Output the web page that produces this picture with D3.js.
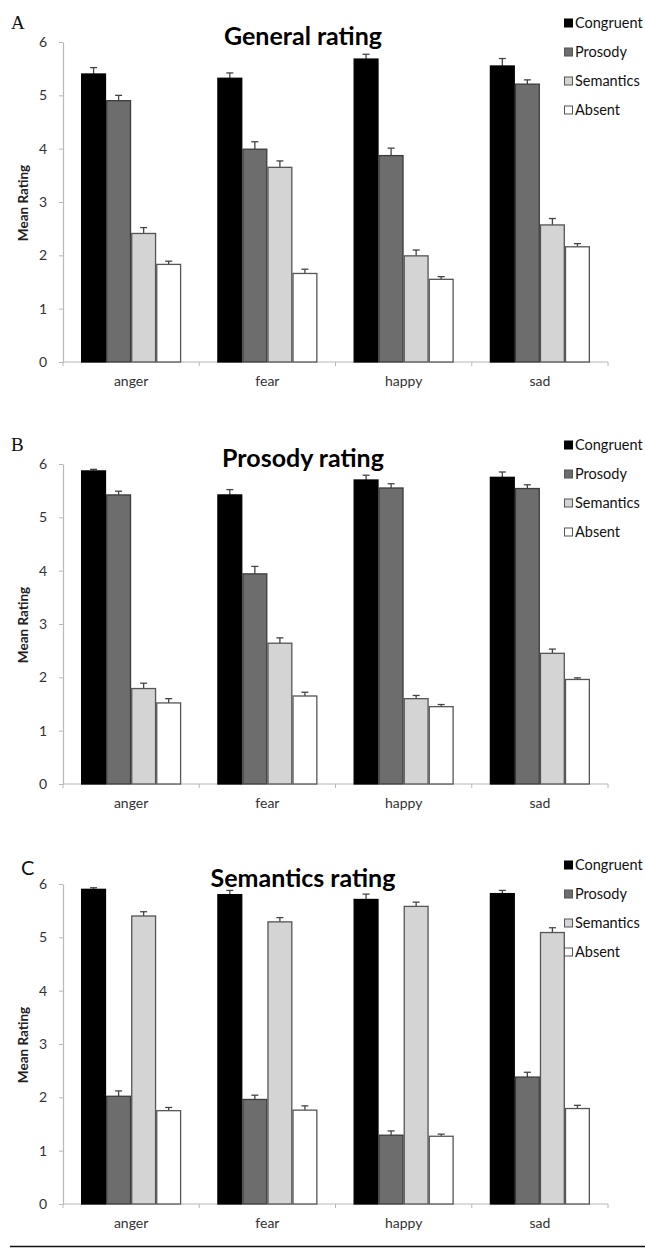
<!DOCTYPE html>
<html>
<head>
<meta charset="utf-8">
<script src="https://cdn.jsdelivr.net/npm/d3@7"></script>
<style>
  html, body { margin: 0; padding: 0; background: #fff; }
  svg { display: block; }
</style>
</head>
<body>
<svg id="chart" width="645" height="1248"></svg>
<script>
// ---------- data ----------
const categories = ["anger", "fear", "happy", "sad"];
const series = ["Congruent", "Prosody", "Semantics", "Absent"];
const panelTitles = ["General rating", "Prosody rating", "Semantics rating"];
const panelLetters = ["A", "B", "C"];
const yTicks = [0, 1, 2, 3, 4, 5, 6];
const yAxisLabel = "Mean Rating";

// means per category (rows) x condition (Congruent, Prosody, Semantics, Absent)
const generalMeans = [
  [5.40, 4.90, 2.41, 1.83],
  [5.32, 3.99, 3.65, 1.66],
  [5.68, 3.87, 1.99, 1.55],
  [5.55, 5.21, 2.57, 2.16]
];
const generalErrors = [
  [0.12, 0.10, 0.11, 0.06],
  [0.10, 0.14, 0.12, 0.08],
  [0.09, 0.14, 0.11, 0.05],
  [0.14, 0.08, 0.12, 0.06]
];
const prosodyMeans = [
  [5.87, 5.42, 1.79, 1.52],
  [5.42, 3.94, 2.64, 1.65],
  [5.70, 5.55, 1.60, 1.45],
  [5.75, 5.54, 2.45, 1.96]
];
const prosodyErrors = [
  [0.03, 0.07, 0.10, 0.08],
  [0.10, 0.14, 0.10, 0.07],
  [0.09, 0.08, 0.06, 0.04],
  [0.10, 0.07, 0.08, 0.03]
];
const semanticsMeans = [
  [5.90, 2.02, 5.40, 1.75],
  [5.80, 1.96, 5.29, 1.76],
  [5.71, 1.29, 5.58, 1.27],
  [5.82, 2.38, 5.09, 1.79]
];
const semanticsErrors = [
  [0.03, 0.10, 0.08, 0.06],
  [0.08, 0.08, 0.08, 0.08],
  [0.10, 0.08, 0.08, 0.04],
  [0.06, 0.09, 0.09, 0.06]
];

// ---------- styling ----------
const fills = { Congruent: "#000000", Prosody: "#6d6d6d", Semantics: "#d4d4d4", Absent: "#ffffff" };
const strokes = { Congruent: "#000000", Prosody: "#3c3c3c", Semantics: "#555555", Absent: "#555555" };
const FONT = "Lato, 'Open Sans', 'DejaVu Sans', sans-serif";

const panels = [
  { title: panelTitles[0], letter: panelLetters[0], means: generalMeans, errs: generalErrors, top: 0, letterFont: "'Liberation Serif', 'DejaVu Serif', serif", letterX: 11, letterY: 29, letterSize: 19 },
  { title: panelTitles[1], letter: panelLetters[1], means: prosodyMeans, errs: prosodyErrors, top: 422, letterFont: "'Liberation Serif', 'DejaVu Serif', serif", letterX: 11, letterY: 29, letterSize: 19 },
  { title: panelTitles[2], letter: panelLetters[2], means: semanticsMeans, errs: semanticsErrors, top: 842, letterFont: FONT, letterX: 21, letterY: 33, letterSize: 20 }
];

const svg = d3.select("#chart");

const x0 = d3.scaleBand().domain(categories).range([63, 608]).paddingInner(0.265).paddingOuter(0.1325);
const x1 = d3.scaleBand().domain(series).range([0, x0.bandwidth()]).padding(0);

panels.forEach(p => {
  const g = svg.append("g").attr("transform", `translate(0,${p.top})`);
  const y = d3.scaleLinear().domain([0, 6]).range([362, 42]);

  // letter
  g.append("text").attr("x", p.letterX).attr("y", p.letterY)
    .attr("font-family", p.letterFont).attr("font-size", p.letterSize)
    .attr("fill", "#111").text(p.letter);

  // title
  g.append("text").attr("x", 303).attr("y", 45).attr("text-anchor", "middle")
    .attr("font-family", FONT).attr("font-weight", "bold").attr("font-size", 25)
    .attr("fill", "#000").text(p.title);

  // y axis
  const yAxis = g.append("g").attr("transform", "translate(63,0)")
    .call(d3.axisLeft(y).tickValues(yTicks).tickFormat(d3.format("d")).tickSize(4).tickSizeOuter(0).tickPadding(12));
  yAxis.select(".domain").attr("stroke", "#b8b8b8").attr("stroke-width", 1.2);
  yAxis.selectAll(".tick line").attr("stroke", "#b8b8b8");
  yAxis.selectAll(".tick text").attr("font-family", FONT).attr("font-size", 14).attr("fill", "#333");

  // y axis label
  g.append("text").attr("transform", "translate(28,203) rotate(-90)").attr("text-anchor", "middle")
    .attr("font-family", FONT).attr("font-weight", "bold").attr("font-size", 13.5)
    .attr("fill", "#222").text(yAxisLabel);

  // x axis (labels)
  const xAxis = g.append("g").attr("transform", "translate(0,362)")
    .call(d3.axisBottom(x0).tickSize(0).tickPadding(14));
  xAxis.select(".domain").remove();
  xAxis.selectAll(".tick text").attr("font-family", FONT).attr("font-size", 14).attr("fill", "#333");

  // baseline and boundary ticks
  const [r0, r1] = x0.range();
  g.append("line").attr("x1", r0).attr("x2", r1).attr("y1", 362).attr("y2", 362)
    .attr("stroke", "#b8b8b8").attr("stroke-width", 1.2);
  const boundaries = d3.range(categories.length + 1).map(i => r0 + i * x0.step());
  g.selectAll(".bt").data(boundaries).join("line").attr("class", "bt")
    .attr("x1", d => d).attr("x2", d => d).attr("y1", 362).attr("y2", 366)
    .attr("stroke", "#b8b8b8");

  // bars
  const groups = g.selectAll(".grp").data(categories).join("g").attr("class", "grp")
    .attr("transform", d => `translate(${x0(d)},0)`);

  groups.each(function(cat, ci) {
    const gg = d3.select(this);
    const rows = series.map((s, si) => ({ s, v: p.means[ci][si], e: p.errs[ci][si] }));
    rows.forEach(r => {
      const cx = x1(r.s) + x1.bandwidth() / 2;
      gg.append("line").attr("x1", cx).attr("x2", cx).attr("y1", y(r.v)).attr("y2", y(r.v + r.e))
        .attr("stroke", "#444").attr("stroke-width", 1.3);
      gg.append("line").attr("x1", cx - 3.5).attr("x2", cx + 3.5).attr("y1", y(r.v + r.e)).attr("y2", y(r.v + r.e))
        .attr("stroke", "#444").attr("stroke-width", 1.3);
    });
    gg.selectAll("rect").data(rows).join("rect")
      .attr("x", d => x1(d.s) + 0.6)
      .attr("width", x1.bandwidth() - 1.2)
      .attr("y", d => y(d.v))
      .attr("height", d => y(0) - y(d.v))
      .attr("fill", d => fills[d.s])
      .attr("stroke", d => strokes[d.s])
      .attr("stroke-width", 1.3);
  });

  // legend
  const lg = g.append("g");
  series.forEach((s, i) => {
    const cy = 23 + i * 29;
    lg.append("rect").attr("x", 564.5).attr("y", cy - 4).attr("width", 8).attr("height", 8)
      .attr("fill", fills[s]).attr("stroke", s === "Congruent" ? "#000" : "#555").attr("stroke-width", 1);
    lg.append("text").attr("x", 575).attr("y", cy).attr("dy", "0.35em")
      .attr("font-family", FONT).attr("font-size", 14.5).attr("fill", "#111").text(s);
  });
});

// bottom rule
svg.append("line").attr("x1", 10).attr("x2", 645).attr("y1", 1246.5).attr("y2", 1246.5)
  .attr("stroke", "#111").attr("stroke-width", 1.5);
</script>
</body>
</html>
